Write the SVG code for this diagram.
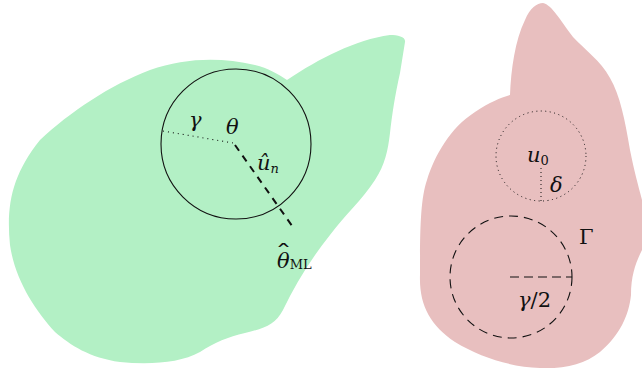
<svg xmlns="http://www.w3.org/2000/svg" width="642" height="372" viewBox="0 0 642 372">
<style>
.m{font-family:"DejaVu Serif","Liberation Serif",serif;font-style:italic;font-size:21px;fill:#111}
.r{font-family:"DejaVu Serif","Liberation Serif",serif;font-size:21px;fill:#111}
.s{font-family:"DejaVu Serif","Liberation Serif",serif;font-size:13px;fill:#111}
.h{font-family:"DejaVu Serif","Liberation Serif",serif;font-size:20px;fill:#111}
.ln{fill:none;stroke:#111}
</style>
<rect width="642" height="372" fill="#fff"/>
<g id="green-region">
<path fill="#b3f0c5" d="M390,35 C398,35 406,37 405,42 L400,73 C395,95 392,115 390,133 C388,150 385,165 375,180 C362,200 345,215 330,235 C310,260 295,285 283,310 C275,325 265,328 245,333 C228,337 215,342 200,352 C180,363 150,365 120,362 C90,358 70,345 55,332 C35,310 15,280 10,245 C6,205 12,175 40,140 C70,112 110,85 150,70 C185,58 220,57 255,65 C268,68 278,74 287,80 C320,58 355,40 390,35 Z"/>
</g>
<g id="pink-region">
<path fill="#e8bfbf" d="M543,3 C552,5 560,20 573,37 C585,50 600,60 610,78 C620,95 625,120 630,150 C634,170 638,185 642,200 L642,250 C636,262 631,275 631,295 C629,315 620,335 600,352 C585,364 565,369 540,368 C510,367 480,357 455,342 C430,325 419,305 420,275 C420,235 420,200 427,180 C435,155 450,128 475,112 C490,102 500,98 510,95 C511,70 515,40 525,20 C530,8 537,3 543,3 Z"/>
</g>
<g id="ball-theta">
<circle class="ln" cx="236" cy="144" r="75" stroke-width="1.1"/>
<path class="ln" d="M163,131 L233,143" stroke-width="1.1" stroke-dasharray="1,4"/>
<text class="m" x="189" y="127">γ</text>
<text class="m" x="226" y="134">θ</text>
</g>
<g id="ball-u0">
<circle class="ln" cx="541" cy="156" r="45" stroke-width="1" stroke-dasharray="1,3.5"/>
<path class="ln" d="M541,168 L541,201" stroke-width="1" stroke-dasharray="1,3"/>
<text class="m" x="527" y="162">u<tspan class="s" font-style="normal" dy="3">0</tspan></text>
<text class="m" x="550" y="192">δ</text>
</g>
<g id="ball-gamma">
<circle class="ln" cx="511" cy="277" r="61" stroke-width="1.1" stroke-dasharray="9,6"/>
<path class="ln" d="M510,277 L572,277" stroke-width="1.1" stroke-dasharray="9,5"/>
<text class="m" x="518" y="307">γ<tspan font-style="normal">/2</tspan></text>
<text class="r" x="579" y="244">Γ</text>
</g>
<g id="connectors">
<path class="ln" d="M235,145 L295,230" stroke-width="2" stroke-dasharray="7,6"/>
</g>
<g id="labels">
<text class="m" x="257" y="170">û<tspan class="s" font-style="italic" dy="3">n</tspan></text>
<text class="m" x="277" y="268">θ<tspan class="s" font-style="normal" font-size="11" dy="1">ML</tspan></text>
<text class="h" x="0" y="0" transform="translate(275,260) scale(1.7,1)">ˆ</text>
</g>
</svg>
